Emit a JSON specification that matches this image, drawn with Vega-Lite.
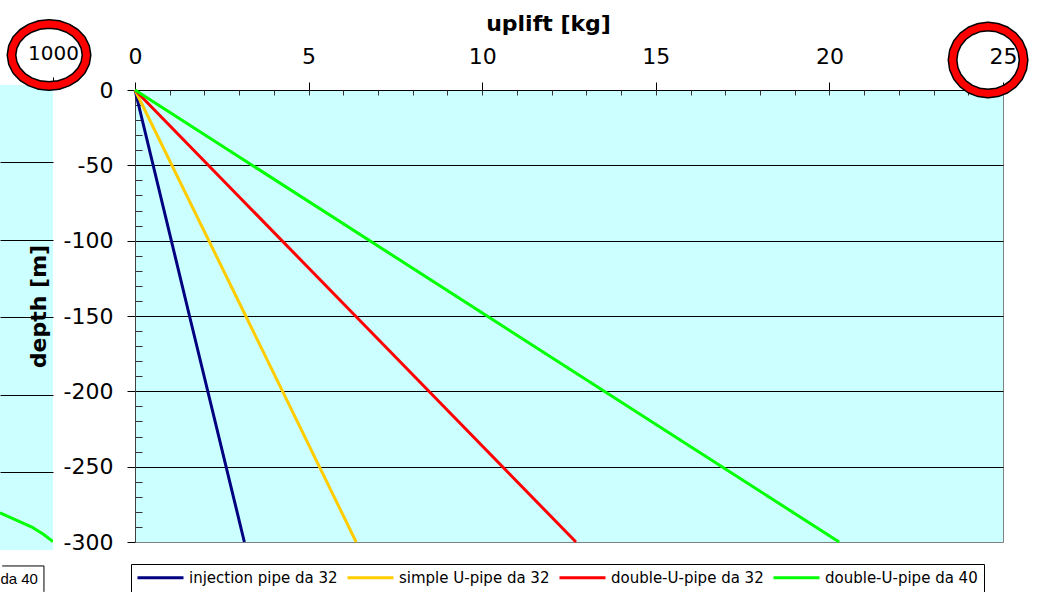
{
  "$schema": "https://vega.github.io/schema/vega-lite/v6.json",
  "padding": {"left": 0, "top": 11, "right": 0, "bottom": 0},
  "bounds": "flush",
  "spacing": 82,
  "config": {
    "font": "DejaVu Sans",
    "axis": {"labelColor": "#000", "tickColor": "#000", "domainColor": "#000", "gridColor": "#000", "gridOpacity": 1, "gridWidth": 1, "tickWidth": 1, "domainWidth": 1}
  },
  "resolve": {"scale": {"color": "independent"}, "legend": {"color": "independent"}},
  "hconcat": [
    {
      "width": 53,
      "height": 460,
      "view": {"fill": "#CCFFFF", "stroke": null},
      "resolve": {"axis": {"x": "independent", "y": "independent"}},
      "layer": [
        {
          "data": {"values": [{"k": 1}]},
          "mark": {"type": "rect", "fill": "#CCFFFF"},
          "encoding": {
            "x": {"datum": 939, "type": "quantitative", "scale": {"domain": [939, 1000], "nice": false, "zero": false}, "axis": null},
            "x2": {"datum": 1000},
            "y": {"datum": 0, "type": "quantitative", "scale": {"domain": [-300, -3.226], "nice": false, "zero": false}, "axis": null},
            "y2": {"datum": -3.226}
          }
        },
        {
          "data": {"values": [
            {"uplift": 939, "depth": -276},
            {"uplift": 977, "depth": -285.6},
            {"uplift": 988.5, "depth": -289.7},
            {"uplift": 1000, "depth": -294.6}
          ]},
          "mark": {"type": "line", "stroke": "#00FF00", "strokeWidth": 3, "strokeJoin": "round", "clip": true},
          "encoding": {
            "x": {"field": "uplift", "type": "quantitative", "scale": {"domain": [939, 1000], "nice": false, "zero": false},
              "axis": {"orient": "top", "values": [1000], "labelExpr": "toString(datum.value)", "tickSize": 8, "offset": 5, "labelFontSize": 20, "labelPadding": 18, "labelBaseline": "alphabetic", "labelFlush": false, "labelOverlap": false, "title": null, "grid": false}},
            "y": {"field": "depth", "type": "quantitative", "scale": {"domain": [-300, -3.226], "nice": false, "zero": false},
              "axis": {"orient": "left", "values": [-50, -100, -150, -200, -250], "labels": false, "ticks": false, "domain": false, "grid": true, "title": null}}
          }
        },
        {
          "data": {"values": [{"label": "da 40"}]},
          "mark": {"type": "text", "align": "right", "baseline": "middle", "fontSize": 15, "font": "Liberation Sans", "color": "#000"},
          "encoding": {
            "x": {"datum": 982.7, "type": "quantitative", "scale": {"domain": [939, 1000], "nice": false, "zero": false},
              "axis": {"orient": "top", "values": [960], "tickSize": -4, "offset": 5, "labels": false, "domain": false, "grid": false, "title": null, "tickColor": "#333"}},
            "y": {"datum": -318.7, "type": "quantitative", "scale": {"domain": [-300, -3.226], "nice": false, "zero": false}, "axis": null},
            "text": {"field": "label"}
          }
        },
        {
          "data": {"values": [{"k": 1}]},
          "mark": {"type": "rule", "color": "#000", "strokeWidth": 1},
          "encoding": {
            "x": {"datum": 941.5, "type": "quantitative", "scale": {"domain": [939, 1000], "nice": false, "zero": false}, "axis": null},
            "x2": {"datum": 989.6},
            "y": {"datum": -310.3, "type": "quantitative", "scale": {"domain": [-300, -3.226], "nice": false, "zero": false}, "axis": null}
          }
        },
        {
          "data": {"values": [{"k": 1}]},
          "mark": {"type": "rule", "color": "#000", "strokeWidth": 1},
          "encoding": {
            "x": {"datum": 989.6, "type": "quantitative", "scale": {"domain": [939, 1000], "nice": false, "zero": false}, "axis": null},
            "y": {"datum": -310.3, "type": "quantitative", "scale": {"domain": [-300, -3.226], "nice": false, "zero": false}, "axis": null},
            "y2": {"datum": -327}
          }
        },
        {
          "data": {"values": [{"uplift": 995.4, "depth": 19.35}]},
          "mark": {"type": "point", "shape": "M0.987,0L0.9533,0.2112L0.8547,0.408L0.6979,0.577L0.4935,0.7067L0.2554,0.7882L0,0.816L-0.2554,0.7882L-0.4935,0.7067L-0.6979,0.577L-0.8547,0.408L-0.9533,0.2112L-0.987,0L-0.9533,-0.2112L-0.8547,-0.408L-0.6979,-0.577L-0.4935,-0.7067L-0.2554,-0.7882L0,-0.816L0.2554,-0.7882L0.4935,-0.7067L0.6979,-0.577L0.8547,-0.408L0.9533,-0.2112Z", "size": 5776, "filled": false, "stroke": "#000", "strokeWidth": 10, "strokeJoin": "round", "opacity": 1},
          "encoding": {
            "x": {"field": "uplift", "type": "quantitative", "scale": {"domain": [939, 1000], "nice": false, "zero": false}, "axis": null},
            "y": {"field": "depth", "type": "quantitative", "scale": {"domain": [-300, -3.226], "nice": false, "zero": false}, "axis": null}
          }
        },
        {
          "data": {"values": [{"uplift": 995.4, "depth": 19.35}]},
          "mark": {"type": "point", "shape": "M0.987,0L0.9533,0.2112L0.8547,0.408L0.6979,0.577L0.4935,0.7067L0.2554,0.7882L0,0.816L-0.2554,0.7882L-0.4935,0.7067L-0.6979,0.577L-0.8547,0.408L-0.9533,0.2112L-0.987,0L-0.9533,-0.2112L-0.8547,-0.408L-0.6979,-0.577L-0.4935,-0.7067L-0.2554,-0.7882L0,-0.816L0.2554,-0.7882L0.4935,-0.7067L0.6979,-0.577L0.8547,-0.408L0.9533,-0.2112Z", "size": 5776, "filled": false, "stroke": "#FF0000", "strokeWidth": 7, "strokeJoin": "round", "opacity": 1},
          "encoding": {
            "x": {"field": "uplift", "type": "quantitative", "scale": {"domain": [939, 1000], "nice": false, "zero": false}, "axis": null},
            "y": {"field": "depth", "type": "quantitative", "scale": {"domain": [-300, -3.226], "nice": false, "zero": false}, "axis": null}
          }
        }
      ]
    },
    {
      "width": 868,
      "height": 452,
      "view": {"fill": "#CCFFFF", "stroke": "#808080"},
      "resolve": {"axis": {"x": "independent", "y": "independent"}},
      "layer": [
        {
          "data": {"values": [
            {"series": "injection pipe da 32", "uplift": 0, "depth": 0},
            {"series": "injection pipe da 32", "uplift": 1.57, "depth": -150},
            {"series": "injection pipe da 32", "uplift": 3.15, "depth": -300},
            {"series": "simple U-pipe da 32", "uplift": 0, "depth": 0},
            {"series": "simple U-pipe da 32", "uplift": 3.19, "depth": -150},
            {"series": "simple U-pipe da 32", "uplift": 6.37, "depth": -300},
            {"series": "double-U-pipe da 32", "uplift": 0, "depth": 0},
            {"series": "double-U-pipe da 32", "uplift": 6.35, "depth": -150},
            {"series": "double-U-pipe da 32", "uplift": 12.7, "depth": -300},
            {"series": "double-U-pipe da 40", "uplift": 0, "depth": 0},
            {"series": "double-U-pipe da 40", "uplift": 10.14, "depth": -150},
            {"series": "double-U-pipe da 40", "uplift": 20.28, "depth": -300}
          ]},
          "mark": {"type": "line", "strokeWidth": 3},
          "encoding": {
            "x": {"field": "uplift", "type": "quantitative", "scale": {"domain": [0, 25], "nice": false, "zero": false},
              "axis": {"orient": "top", "values": [0, 5, 10, 15, 20, 25], "labelExpr": "toString(datum.value)", "tickSize": 8, "labelFontSize": 22, "labelPadding": 19, "labelBaseline": "alphabetic", "labelFlush": false, "labelOverlap": false, "grid": false,
                "title": "uplift [kg]", "titleFont": "DejaVu Sans", "titleFontSize": 22, "titleFontWeight": "bold", "titleColor": "#000", "titleX": 413, "titleY": -67, "titleAlign": "center", "titleBaseline": "middle", "titleAngle": 0}},
            "y": {"field": "depth", "type": "quantitative", "scale": {"domain": [-300, 0], "nice": false, "zero": false},
              "axis": {"orient": "left", "values": [0, -50, -100, -150, -200, -250, -300], "labelExpr": "toString(datum.value)", "tickSize": 8, "labelFontSize": 22, "labelPadding": 14, "labelFlush": false, "labelOverlap": false, "domainColor": "#404040",
                "grid": true, "gridColor": {"condition": {"test": "datum.value === 0 || datum.value === -300", "value": "transparent"}, "value": "#000"},
                "title": "depth [m]", "titleFont": "DejaVu Sans", "titleFontSize": 22, "titleFontWeight": "bold", "titleColor": "#000", "titleX": -97, "titleY": 216, "titleAlign": "center", "titleBaseline": "middle", "titleAngle": -90}},
            "color": {"field": "series", "type": "nominal",
              "scale": {"domain": ["injection pipe da 32", "simple U-pipe da 32", "double-U-pipe da 32", "double-U-pipe da 40"], "range": ["#000080", "#FFCC00", "#FF0000", "#00FF00"]},
              "legend": {"orient": "none", "legendX": -4, "legendY": 474, "direction": "horizontal", "title": null,
                "symbolType": "M-1.75,0H9.75", "symbolSize": 64, "symbolStrokeWidth": 3, "labelFont": "DejaVu Sans", "labelFontSize": 15, "labelColor": "#000",
                "labelOffset": 37, "columnPadding": 3, "padding": 6, "strokeColor": "#000", "fillColor": "#FFFFFF", "cornerRadius": 0}}
          }
        },
        {
          "data": {"values": [{"uplift": 24.57, "depth": 19.9}]},
          "mark": {"type": "point", "shape": "M0.934,0L0.9022,0.2283L0.8088,0.441L0.6604,0.6237L0.467,0.7638L0.2417,0.8519L0,0.882L-0.2417,0.8519L-0.467,0.7638L-0.6604,0.6237L-0.8088,0.441L-0.9022,0.2283L-0.934,0L-0.9022,-0.2283L-0.8088,-0.441L-0.6604,-0.6237L-0.467,-0.7638L-0.2417,-0.8519L0,-0.882L0.2417,-0.8519L0.467,-0.7638L0.6604,-0.6237L0.8088,-0.441L0.9022,-0.2283Z", "size": 5776, "filled": false, "stroke": "#000", "strokeWidth": 10, "strokeJoin": "round", "opacity": 1},
          "encoding": {
            "x": {"field": "uplift", "type": "quantitative", "scale": {"domain": [0, 25], "nice": false, "zero": false},
              "axis": {"orient": "top", "values": [1, 2, 3, 4, 5, 6, 7, 8, 9, 10, 11, 12, 13, 14, 15, 16, 17, 18, 19, 20, 21, 22, 23, 24], "tickSize": -5, "labels": false, "domain": false, "grid": false, "title": null, "tickColor": "#333"}},
            "y": {"field": "depth", "type": "quantitative", "scale": {"domain": [-300, 0], "nice": false, "zero": false},
              "axis": {"orient": "left", "values": [-10, -20, -30, -40, -60, -70, -80, -90, -110, -120, -130, -140, -160, -170, -180, -190, -210, -220, -230, -240, -260, -270, -280, -290], "tickSize": -7, "labels": false, "domain": false, "grid": false, "title": null, "tickColor": "#333"}}
          }
        },
        {
          "data": {"values": [{"uplift": 24.57, "depth": 19.9}]},
          "mark": {"type": "point", "shape": "M0.934,0L0.9022,0.2283L0.8088,0.441L0.6604,0.6237L0.467,0.7638L0.2417,0.8519L0,0.882L-0.2417,0.8519L-0.467,0.7638L-0.6604,0.6237L-0.8088,0.441L-0.9022,0.2283L-0.934,0L-0.9022,-0.2283L-0.8088,-0.441L-0.6604,-0.6237L-0.467,-0.7638L-0.2417,-0.8519L0,-0.882L0.2417,-0.8519L0.467,-0.7638L0.6604,-0.6237L0.8088,-0.441L0.9022,-0.2283Z", "size": 5776, "filled": false, "stroke": "#FF0000", "strokeWidth": 7, "strokeJoin": "round", "opacity": 1},
          "encoding": {
            "x": {"field": "uplift", "type": "quantitative", "scale": {"domain": [0, 25], "nice": false, "zero": false}, "axis": null},
            "y": {"field": "depth", "type": "quantitative", "scale": {"domain": [-300, 0], "nice": false, "zero": false}, "axis": null}
          }
        }
      ]
    }
  ]
}
